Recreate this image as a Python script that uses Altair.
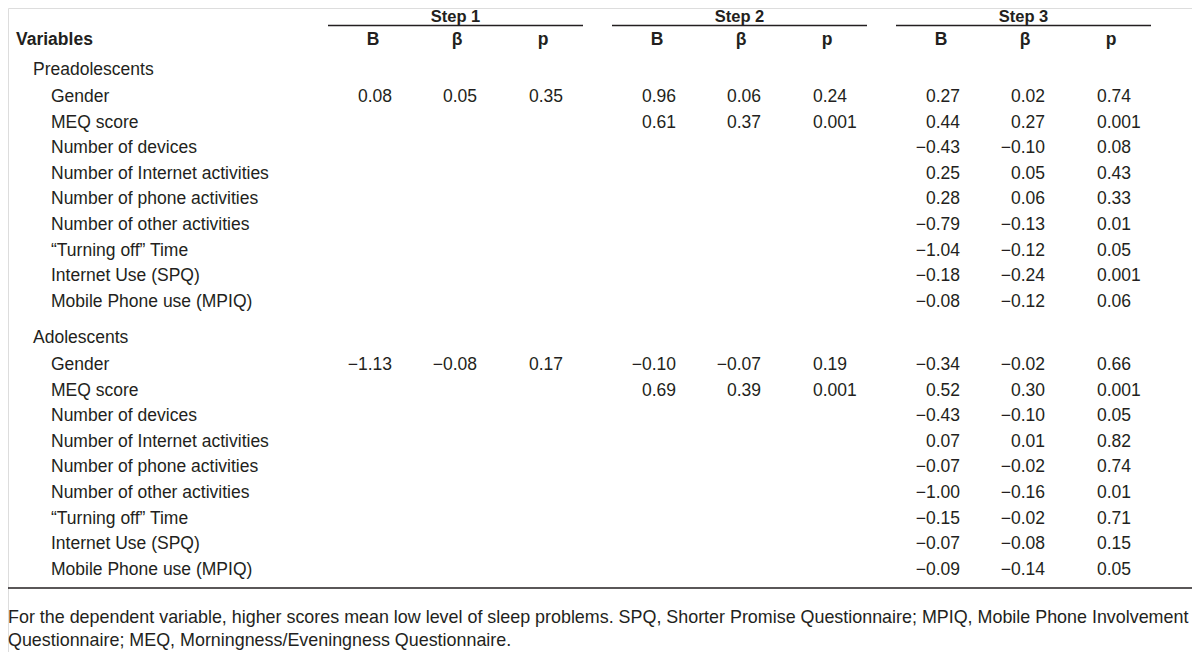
import altair as alt
import pandas as pd

M = "\u2212"

# ---------------- data ----------------
steps = ["Step 1", "Step 2", "Step 3"]
stat_heads = ["B", "β", "p"]
groups = ["Preadolescents", "Adolescents"]
variables = [
    "Gender",
    "MEQ score",
    "Number of devices",
    "Number of Internet activities",
    "Number of phone activities",
    "Number of other activities",
    "“Turning off” Time",
    "Internet Use (SPQ)",
    "Mobile Phone use (MPIQ)",
]

# Preadolescents
pre_s1_B    = ["0.08", "", "", "", "", "", "", "", ""]
pre_s1_beta = ["0.05", "", "", "", "", "", "", "", ""]
pre_s1_p    = ["0.35", "", "", "", "", "", "", "", ""]
pre_s2_B    = ["0.96", "0.61", "", "", "", "", "", "", ""]
pre_s2_beta = ["0.06", "0.37", "", "", "", "", "", "", ""]
pre_s2_p    = ["0.24", "0.001", "", "", "", "", "", "", ""]
pre_s3_B    = ["0.27", "0.44", M + "0.43", "0.25", "0.28", M + "0.79", M + "1.04", M + "0.18", M + "0.08"]
pre_s3_beta = ["0.02", "0.27", M + "0.10", "0.05", "0.06", M + "0.13", M + "0.12", M + "0.24", M + "0.12"]
pre_s3_p    = ["0.74", "0.001", "0.08", "0.43", "0.33", "0.01", "0.05", "0.001", "0.06"]

# Adolescents
ado_s1_B    = [M + "1.13", "", "", "", "", "", "", "", ""]
ado_s1_beta = [M + "0.08", "", "", "", "", "", "", "", ""]
ado_s1_p    = ["0.17", "", "", "", "", "", "", "", ""]
ado_s2_B    = [M + "0.10", "0.69", "", "", "", "", "", "", ""]
ado_s2_beta = [M + "0.07", "0.39", "", "", "", "", "", "", ""]
ado_s2_p    = ["0.19", "0.001", "", "", "", "", "", "", ""]
ado_s3_B    = [M + "0.34", "0.52", M + "0.43", "0.07", M + "0.07", M + "1.00", M + "0.15", M + "0.07", M + "0.09"]
ado_s3_beta = [M + "0.02", "0.30", M + "0.10", "0.01", M + "0.02", M + "0.16", M + "0.02", M + "0.08", M + "0.14"]
ado_s3_p    = ["0.66", "0.001", "0.05", "0.82", "0.74", "0.01", "0.71", "0.15", "0.05"]

footnote = [
    "For the dependent variable, higher scores mean low level of sleep problems. SPQ, Shorter Promise Questionnaire; MPIQ, Mobile Phone Involvement",
    "Questionnaire; MEQ, Morningness/Eveningness Questionnaire.",
]

# ---------------- layout (page pixels) ----------------
FONT = "Liberation Sans, Arial, sans-serif"
FS = 17.5
FS_STEP = 16.5
FS_FOOT = 17.9
COLOR = "#231f20"
STEP_DX = 284
B_RIGHT, BETA_RIGHT, P_LEFT = 392, 477, 529
HEAD_CX = [373, 457, 543]
STEP_CX = 455.5
LINE_X = (328, 583)
Y_STEP, Y_LINE, Y_HEAD = 21.5, 25.5, 45
Y_GROUP = [75, 343]
Y_FIRST = [102, 370]
ROW_H = 25.6
Y_BOTTOM = 588
Y_FOOT = [623, 646]
X_VARHEAD, X_GROUP, X_VAR, X_FOOT = 16, 33, 51, 8

group_data = {
    0: [[pre_s1_B, pre_s1_beta, pre_s1_p], [pre_s2_B, pre_s2_beta, pre_s2_p], [pre_s3_B, pre_s3_beta, pre_s3_p]],
    1: [[ado_s1_B, ado_s1_beta, ado_s1_p], [ado_s2_B, ado_s2_beta, ado_s2_p], [ado_s3_B, ado_s3_beta, ado_s3_p]],
}

left_rows, right_rows, head_rows, step_rows, bold_left, foot_rows, rules = [], [], [], [], [], [], []

bold_left.append({"text": "Variables", "x": X_VARHEAD, "y": Y_HEAD})
for s, name in enumerate(steps):
    step_rows.append({"text": name, "x": STEP_CX + s * STEP_DX, "y": Y_STEP})
    rules.append({"x": LINE_X[0] + s * STEP_DX, "x2": LINE_X[1] + s * STEP_DX, "y": Y_LINE})
    for k, h in enumerate(stat_heads):
        head_rows.append({"text": h, "x": HEAD_CX[k] + s * STEP_DX, "y": Y_HEAD})

for g, gname in enumerate(groups):
    left_rows.append({"text": gname, "x": X_GROUP, "y": Y_GROUP[g]})
    for i, v in enumerate(variables):
        y = Y_FIRST[g] + i * ROW_H
        left_rows.append({"text": v, "x": X_VAR, "y": y})
        for s in range(3):
            colB, colBeta, colP = group_data[g][s]
            if colB[i]:
                right_rows.append({"text": colB[i], "x": B_RIGHT + s * STEP_DX, "y": y})
            if colBeta[i]:
                right_rows.append({"text": colBeta[i], "x": BETA_RIGHT + s * STEP_DX, "y": y})
            if colP[i]:
                left_rows.append({"text": colP[i], "x": P_LEFT + s * STEP_DX, "y": y})

for j, line in enumerate(footnote):
    foot_rows.append({"text": line, "x": X_FOOT, "y": Y_FOOT[j]})

rules.append({"x": 8, "x2": 1192, "y": Y_BOTTOM})

xs = alt.Scale(domain=[8, 1192], nice=False, zero=False)
ys = alt.Scale(domain=[8, 652], nice=False, zero=False, reverse=True)


def text_layer(rows, align, bold, size):
    return alt.Chart(pd.DataFrame(rows)).mark_text(
        align=align, baseline="alphabetic", font=FONT, fontSize=size,
        fontWeight="bold" if bold else "normal", color=COLOR,
    ).encode(
        x=alt.X("x:Q", scale=xs, axis=None),
        y=alt.Y("y:Q", scale=ys, axis=None),
        text="text:N",
    )


rule_layer = alt.Chart(pd.DataFrame(rules)).mark_rule(color=COLOR, strokeWidth=1.5).encode(
    x=alt.X("x:Q", scale=xs, axis=None),
    x2="x2:Q",
    y=alt.Y("y:Q", scale=ys, axis=None),
)

chart = alt.layer(
    rule_layer,
    text_layer(left_rows, "left", False, FS),
    text_layer(right_rows, "right", False, FS),
    text_layer(head_rows, "center", True, FS),
    text_layer(step_rows, "center", True, FS_STEP),
    text_layer(bold_left, "left", True, FS),
    text_layer(foot_rows, "left", False, FS_FOOT),
).properties(
    width=1184, height=644, autosize="none", padding=0
).configure_view(stroke=None).configure(background="white")

chart.save("out.html", embed_options={"renderer": "svg", "actions": False})
